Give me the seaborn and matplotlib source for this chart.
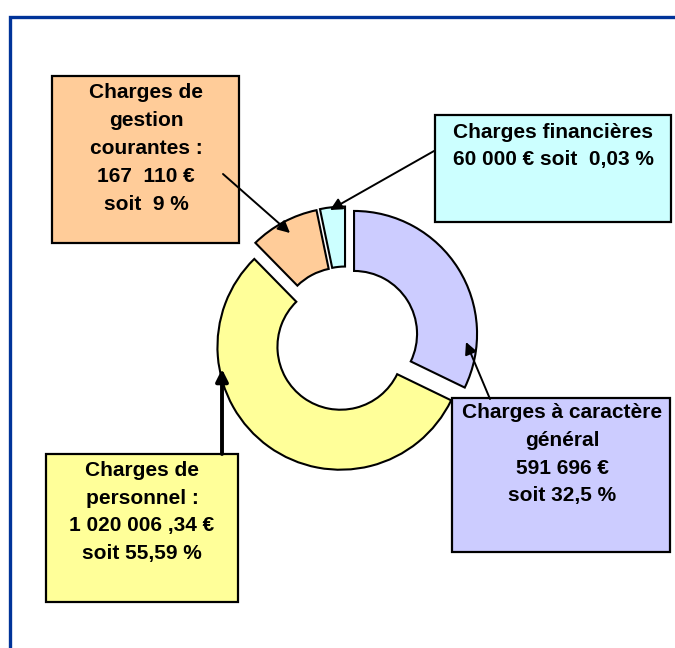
import seaborn as sns
import matplotlib.pyplot as plt
from matplotlib.patches import Rectangle

sns.set_theme(style='white')
plt.rcParams['font.family'] = ['Liberation Sans', 'DejaVu Sans']

# donnees
postes = ['Charges à caractère général', 'Charges de personnel',
          'Charges de gestion courantes', 'Charges financières']
montants = [591696, 1020006.34, 167110, 60000]
couleurs = ['#CCCCFF', '#FFFF99', '#FFCC99', '#CCFFFF']
etiquettes = [
    ['Charges à caractère', 'général', '591 696 €', 'soit 32,5 %'],
    ['Charges de', 'personnel :', '1 020 006 ,34 €', 'soit 55,59 %'],
    ['Charges de', 'gestion', 'courantes :', '167  110 €', 'soit  9 %'],
    ['Charges financières', '60 000 € soit  0,03 %'],
]

# mise en page (pixels)
boites = [(452, 398, 218, 154), (46, 454, 192, 148), (52, 76, 187, 167), (435, 115, 236, 107)]
texte_xy = [(562, 412), (142, 470), (146, 92), (553, 132)]
fleches = [((490, 399), (466, 342), 1.4), ((222, 454), (222, 369), 2.8),
           ((223, 174), (290, 233), 1.4), ((434, 151), (330, 210), 1.4)]

fig = plt.figure(figsize=(6.75, 6.48), dpi=100)
ax = fig.add_axes([0, 0, 1, 1])

# y inverse -> sens horaire a l'ecran
ax.pie(montants, colors=couleurs, center=(346, 339), radius=123,
       startangle=-90, counterclock=True, explode=[9.5] * 4,
       wedgeprops=dict(width=60, edgecolor='black', linewidth=1.5))
ax.set_xlim(0, 675)
ax.set_ylim(648, 0)
ax.set_aspect('equal')
ax.axis('off')

# cadre bleu
ax.plot([10, 10, 675], [648, 16.5, 16.5], color='#003399', lw=2.4,
        solid_joinstyle='miter', clip_on=False)

for (x, y, w, h), c in zip(boites, couleurs):
    ax.add_patch(Rectangle((x, y), w, h, facecolor=c, edgecolor='black', lw=1.6, zorder=3))

for (tx, ty), lignes in zip(texte_xy, etiquettes):
    for i, l in enumerate(lignes):
        ax.text(tx, ty + i * 28, l, ha='center', va='center', fontsize=15,
                fontweight='bold', color='black', zorder=4)

for debut, fin, lw in fleches:
    ax.annotate('', xy=fin, xytext=debut, zorder=5,
                arrowprops=dict(arrowstyle='-|>', color='black', lw=lw,
                                mutation_scale=18, shrinkA=0, shrinkB=0))

fig.savefig('out.png', dpi=100, facecolor='white')
